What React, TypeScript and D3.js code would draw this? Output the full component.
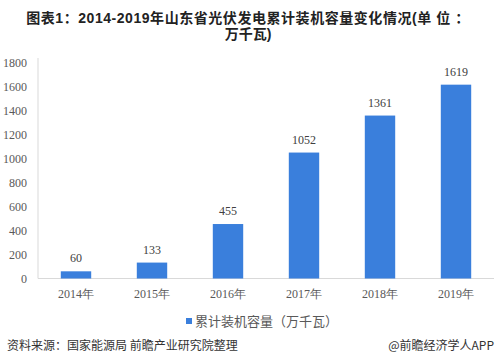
import React from "react";
import * as d3 from "d3";

const categories = ["2014年", "2015年", "2016年", "2017年", "2018年", "2019年"];
const values = [60, 133, 455, 1052, 1361, 1619];
const yTicks = [0, 200, 400, 600, 800, 1000, 1200, 1400, 1600, 1800];
const titleLine1 = "图表1：2014-2019年山东省光伏发电累计装机容量变化情况(单 位 ：";
const titleLine2 = "万千瓦)";
const legendLabel = "累计装机容量（万千瓦）";
const sourceText = "资料来源：国家能源局 前瞻产业研究院整理";
const brandText = "@前瞻经济学人APP";

const W = 497;
const H = 364;
const left = 38;
const right = 494;
const top = 63;
const bottom = 278.5;
const barColor = "#3a7fdc";
const serif = "'Liberation Serif', 'DejaVu Serif', serif";
const sans = "'Noto Sans CJK SC', 'Noto Sans', sans-serif";
const titleFont = "'Liberation Sans', Arial, 'Noto Sans CJK SC', sans-serif";

export default function App() {
  const x = d3.scaleBand<string>().domain(categories).range([left, right]).paddingInner(0.6).paddingOuter(0.3);
  const y = d3.scaleLinear().domain([0, 1800]).range([bottom, top]);

  return (
    <svg width={W} height={H} style={{ position: "absolute", left: 0, top: 0, background: "#fff" }}>
      <rect x={0} y={0} width={W} height={H} fill="#fff" />
      <text x={248} y={23} textAnchor="middle" fontFamily={titleFont} fontWeight="bold" fontSize={14} letterSpacing={0.55} fill="#222">
        {titleLine1}
      </text>
      <text x={248} y={38.5} textAnchor="middle" fontFamily={titleFont} fontWeight="bold" fontSize={14} fill="#222">
        {titleLine2}
      </text>
      {/* axes */}
      <line x1={left} x2={left} y1={top - 5} y2={bottom} stroke="#d9d9d9" />
      <line x1={left} x2={right} y1={bottom} y2={bottom} stroke="#d9d9d9" />
      {yTicks.map((t) => (
        <text key={t} x={27} y={y(t)} dy="0.35em" textAnchor="end" fontFamily={serif} fontSize={12} fill="#595959">
          {t}
        </text>
      ))}
      {categories.map((c, i) => (
        <g key={c}>
          <rect x={x(c)} y={y(values[i])} width={x.bandwidth()} height={bottom - y(values[i])} fill={barColor} />
          <text x={(x(c) as number) + x.bandwidth() / 2} y={y(values[i]) - 9} textAnchor="middle" fontFamily={serif} fontSize={12} fill="#404040">
            {values[i]}
          </text>
          <text x={(x(c) as number) + x.bandwidth() / 2} y={298} textAnchor="middle" fontFamily={serif} fontSize={12} fill="#595959">
            {c}
          </text>
        </g>
      ))}
      {/* legend */}
      <rect x={186} y={318} width={6} height={6} fill={barColor} />
      <text x={195} y={326} fontFamily={sans} fontSize={13} fill="#595959">
        {legendLabel}
      </text>
      {/* footer */}
      <text x={7} y={350} fontFamily={sans} fontSize={12} fill="#333">
        {sourceText}
      </text>
      <text x={494} y={350} textAnchor="end" fontFamily={sans} fontSize={12} fill="#333">
        {brandText}
      </text>
    </svg>
  );
}
